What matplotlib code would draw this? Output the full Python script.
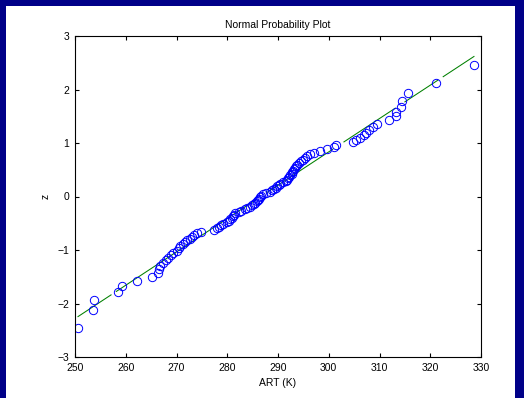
import matplotlib
matplotlib.use('Agg')
import matplotlib.pyplot as plt
from matplotlib.patches import Rectangle
from statistics import NormalDist
import numpy as np

# sorted ART values (K)
art = [250.5, 253.5, 253.8, 258.4, 259.3, 262.3, 265.1, 266.4, 266.5, 266.7,
       267.3, 268.0, 268.4, 269.0, 269.4, 270.0, 270.4, 270.7, 271.2, 271.6,
       272.0, 272.6, 273.0, 273.5, 274.0, 274.8, 277.3, 277.9, 278.4, 278.8,
       279.2, 279.9, 280.3, 280.6, 280.9, 281.2, 281.4, 281.6, 282.3, 282.8,
       283.4, 283.9, 284.4, 284.8, 285.2, 285.5, 285.8, 286.0, 286.2, 286.4,
       286.7, 287.1, 287.6, 288.4, 288.8, 289.2, 289.6, 289.9, 290.2, 290.4,
       290.9, 291.5, 291.8, 292.0, 292.2, 292.4, 292.7, 292.8, 293.0, 293.1,
       293.4, 293.6, 293.8, 294.1, 294.5, 295.0, 295.4, 295.8, 296.3, 297.0,
       298.3, 299.7, 301.0, 301.4, 304.8, 305.4, 306.2, 306.9, 307.3, 307.9,
       308.7, 309.6, 311.8, 313.2, 313.3, 314.2, 314.5, 315.6, 321.1, 328.7]
x_ticks = [250, 260, 270, 280, 290, 300, 310, 320, 330]
y_ticks = [-3, -2, -1, 0, 1, 2, 3]

x = np.sort(np.array(art))
n = len(x)
# normal scores from median ranks
z = np.array([NormalDist().inv_cdf((i - 0.3) / (n + 0.4)) for i in range(1, n + 1)])

# least squares line z ~ x
slope, icpt = np.polyfit(x, z, 1)
xl = np.array([x.min(), x.max()])
zl = slope * xl + icpt

plt.rcParams['font.family'] = ['Liberation Sans', 'DejaVu Sans']
fig = plt.figure(figsize=(5.24, 3.98), dpi=100, facecolor='#000088')
fig.patches.append(Rectangle((6 / 524, 0), 509 / 524, 392 / 398,
                             transform=fig.transFigure, facecolor='white',
                             edgecolor='none', zorder=-1))
ax = fig.add_axes([75 / 524, 41 / 398, 406 / 524, 321 / 398])

ax.plot(xl, zl, color='#008000', lw=0.75,
        dashes=[39, 5, 161, 11.5, 77, 12, 60, 10])
ax.plot(x, z, 'o', mfc='none', mec='#0000ff', ms=6, mew=0.7)

ax.set_xlim(250, 330)
ax.set_ylim(-3, 3)
ax.set_xticks(x_ticks)
ax.set_yticks(y_ticks)
ax.tick_params(direction='in', length=3, width=0.8, top=True, right=True,
               labelsize=7.5, pad=4)
for s in ax.spines.values():
    s.set_linewidth(0.8)
ax.set_title('Normal Probability Plot', fontsize=7.5, pad=6)
ax.set_xlabel('ART (K)', fontsize=7.5, labelpad=4)
ax.set_ylabel('z', fontsize=7.5, labelpad=5)

fig.savefig('out.png', dpi=100, facecolor=fig.get_facecolor())
